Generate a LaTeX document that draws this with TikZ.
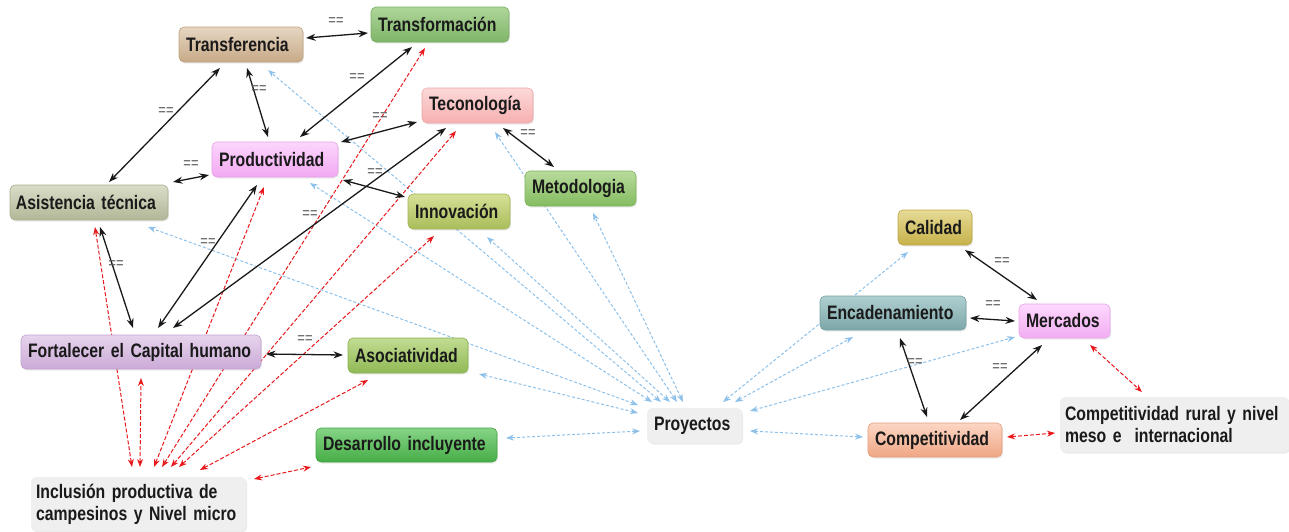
\documentclass[tikz,border=0pt]{standalone}
\usepackage{fontspec}
\setmainfont{Liberation Sans}[FakeStretch=0.81]
\usetikzlibrary{arrows.meta,calc,shadows}
\pgfdeclarelayer{edges}
\pgfsetlayers{edges,main}

% narrow bold label face
\newcommand{\boxfont}{\fontsize{19.5}{22}\selectfont\bfseries}

% box fills: top / bottom / border
\definecolor{tfT}{HTML}{E6D6C2}\definecolor{tfB}{HTML}{C7AA87}\definecolor{tfD}{HTML}{BFA27F}
\definecolor{tmT}{HTML}{AFD69A}\definecolor{tmB}{HTML}{7EB468}\definecolor{tmD}{HTML}{79AD63}
\definecolor{tcT}{HTML}{FDD8D8}\definecolor{tcB}{HTML}{F6B0B0}\definecolor{tcD}{HTML}{EDA6A6}
\definecolor{prT}{HTML}{FCD6FC}\definecolor{prB}{HTML}{F2A8F2}\definecolor{prD}{HTML}{E6A0E6}
\definecolor{asT}{HTML}{DADDC8}\definecolor{asB}{HTML}{B1B797}\definecolor{asD}{HTML}{A8AE8E}
\definecolor{inT}{HTML}{D6E096}\definecolor{inB}{HTML}{A9BD5A}\definecolor{inD}{HTML}{A2B555}
\definecolor{meT}{HTML}{B8DB9C}\definecolor{meB}{HTML}{84BC60}\definecolor{meD}{HTML}{7DB45A}
\definecolor{fcT}{HTML}{E6D4EC}\definecolor{fcB}{HTML}{CBAAD8}\definecolor{fcD}{HTML}{C3A3D0}
\definecolor{aoT}{HTML}{C2DC92}\definecolor{aoB}{HTML}{90B955}\definecolor{aoD}{HTML}{88B150}
\definecolor{deT}{HTML}{86D486}\definecolor{deB}{HTML}{46AD46}\definecolor{deD}{HTML}{42A442}
\definecolor{caT}{HTML}{E6DA96}\definecolor{caB}{HTML}{C6B14A}\definecolor{caD}{HTML}{BCA846}
\definecolor{enT}{HTML}{B0CFD0}\definecolor{enB}{HTML}{7CA6A9}\definecolor{enD}{HTML}{769FA2}
\definecolor{mcT}{HTML}{FDD8FD}\definecolor{mcB}{HTML}{F2ADF2}\definecolor{mcD}{HTML}{E8A4E8}
\definecolor{cpT}{HTML}{FCD6C4}\definecolor{cpB}{HTML}{EFA684}\definecolor{cpD}{HTML}{E59E7E}
\definecolor{greyfill}{HTML}{EFEFEF}
\definecolor{txt}{HTML}{1A1A1A}
\definecolor{redln}{HTML}{E8191C}
\definecolor{blueln}{HTML}{8DC1EA}

\begin{document}
\begin{tikzpicture}[x=1pt,y=-1pt,
  box/.style={rectangle, rounded corners=5pt, inner xsep=7pt, inner ysep=0pt,
    minimum height=35pt, align=left, text=txt, font=\boxfont,
    drop shadow={shadow xshift=1.2pt, shadow yshift=-1.5pt, opacity=0.16}},
  tone/.style n args={3}{top color=#1, bottom color=#2, draw=#3, line width=0.6pt},
  plain/.style={fill=greyfill, draw=none},
  eq/.style={font=\fontsize{16}{16}\selectfont, text=black!65, inner sep=0pt},
  blk/.style={<->, >={Stealth[length=9.5pt,width=7pt]}, line width=1.3pt, draw=black!90},
  rdash/.style={<->, >={Stealth[length=8pt,width=6pt]}, line width=1pt, draw=redln,
    dash pattern=on 4pt off 2pt},
  bdash/.style={<->, >={Stealth[length=8pt,width=6pt]}, line width=1pt, draw=blueln,
    dash pattern=on 3pt off 2pt}
]
\useasboundingbox (0,0) rectangle (1289,531);

% concept boxes
\node[box, tone={tfT}{tfB}{tfD}, text width=110pt] (tf) at (241,44.5) {Transferencia};
\node[box, tone={tmT}{tmB}{tmD}, text width=124pt] (tm) at (440,24.5) {Transformación};
\node[box, tone={tcT}{tcB}{tcD}, text width=97pt]  (tc) at (477.5,105.5) {Teconología};
\node[box, tone={prT}{prB}{prD}, text width=112pt] (pr) at (275,159.5) {Productividad};
\node[box, tone={asT}{asB}{asD}, inner xsep=6pt, text width=146pt] (as) at (89,202.5) {Asistencia técnica};
\node[box, tone={inT}{inB}{inD}, text width=88pt]  (in) at (459,211.5) {Innovación};
\node[box, tone={meT}{meB}{meD}, text width=97pt]  (me) at (580.5,188.5) {Metodologia};
\node[box, tone={fcT}{fcB}{fcD}, text width=226pt, minimum height=34pt] (fc) at (141,352) {Fortalecer el Capital humano};
\node[box, tone={aoT}{aoB}{aoD}, text width=106pt] (ao) at (408,355.5) {Asociatividad};
\node[box, tone={deT}{deB}{deD}, text width=167pt, minimum height=34pt] (de) at (406.5,445) {Desarrollo incluyente};
\node[box, plain, text width=205pt, inner xsep=5pt, minimum height=54pt] (ic) at (138.5,504)
  {Inclusión productiva de\\campesinos y Nivel micro};
\node[box, plain, text width=81pt] (py) at (694.5,425.5) {Proyectos};
\node[box, tone={caT}{caB}{caD}, text width=60pt]  (ca) at (935,227.5) {Calidad};
\node[box, tone={enT}{enB}{enD}, text width=132pt, minimum height=34pt] (en) at (893,313) {Encadenamiento};
\node[box, tone={mcT}{mcB}{mcD}, text width=77pt, minimum height=34pt]  (mc) at (1064.5,321) {Mercados};
\node[box, tone={cpT}{cpB}{cpD}, text width=120pt, minimum height=34pt] (cp) at (935,440) {Competitividad};
\node[box, plain, text width=219pt, inner xsep=5pt, minimum height=55pt] (cr) at (1174.5,424.5)
  {Competitividad rural y nivel\\meso e\ \ internacional};

\begin{pgfonlayer}{edges}
% links to Proyectos
\draw[bdash] ($(py)+(-33.5,-23.5)$) -- ($(tf)+(27,25.5)$);
\draw[bdash] ($(py)+(-42.5,-23.5)$) -- ($(pr)+(35,23.5)$);
\draw[bdash] ($(py)+(-56.5,-20.5)$) -- ($(as)+(59,24.5)$);
\draw[bdash] ($(py)+(-17.5,-23.5)$) -- ($(tc)+(17.5,26.5)$);
\draw[bdash] ($(py)+(-24.5,-23.5)$) -- ($(in)+(28,25.5)$);
\draw[bdash] ($(py)+(-11.5,-23.5)$) -- ($(me)+(12.5,24.5)$);
\draw[bdash] ($(py)+(-56.5,-12.5)$) -- ($(ao)+(71,18.5)$);
\draw[bdash] ($(py)+(-54.5,5.5)$) -- ($(de)+(99.5,-7)$);
\draw[bdash] ($(py)+(28.5,-23.5)$) -- ($(ca)+(-27,24.5)$);
\draw[bdash] ($(py)+(40.5,-23.5)$) -- ($(en)+(-40,24)$);
\draw[bdash] ($(py)+(55.5,-14.5)$) -- ($(mc)+(-49.5,16)$);
\draw[bdash] ($(py)+(55.5,5.5)$) -- ($(cp)+(-72,-3)$);

% links from the micro level and to the rural level
\draw[rdash] ($(ic)+(-6.5,-37)$) -- ($(as)+(6,24.5)$);
\draw[rdash] ($(ic)+(1.5,-37)$) -- ($(fc)+(0,26)$);
\draw[rdash] ($(ic)+(15.5,-37)$) -- ($(pr)+(-11,27.5)$);
\draw[rdash] ($(ic)+(23.5,-37)$) -- ($(tm)+(-15,23.5)$);
\draw[rdash] ($(ic)+(32.5,-37)$) -- ($(tc)+(-21.5,25.5)$);
\draw[rdash] ($(ic)+(40.5,-37)$) -- ($(in)+(-25,24.5)$);
\draw[rdash] ($(ic)+(61.5,-34)$) -- ($(ao)+(-40,24.5)$);
\draw[rdash] ($(ic)+(115.5,-25)$) -- ($(de)+(-95.5,22)$);
\draw[rdash] ($(mc)+(25.5,24)$) -- ($(cr)+(-32.5,-32.5)$);
\draw[rdash] ($(cp)+(72,-3)$) -- ($(cr)+(-119.5,8.5)$);

% equivalence links
\draw[blk] ($(tf)+(65,-6.5)$) -- ($(tm)+(-72,8.5)$);
\draw[blk] ($(tf)+(-21,23.5)$) -- ($(as)+(20,-20.5)$);
\draw[blk] ($(tf)+(6,23.5)$) -- ($(pr)+(-7,-22.5)$);
\draw[blk] ($(tm)+(-28,22.5)$) -- ($(pr)+(25,-22.5)$);
\draw[blk] ($(pr)+(66,-17.5)$) -- ($(tc)+(-60.5,16.5)$);
\draw[blk] ($(as)+(84,-20.5)$) -- ($(pr)+(-66,15.5)$);
\draw[blk] ($(pr)+(68,20.5)$) -- ($(in)+(-54,-14.5)$);
\draw[blk] ($(fc)+(17,-24)$) -- ($(pr)+(-18,25.5)$);
\draw[blk] ($(fc)+(32,-24)$) -- ($(tc)+(-31.5,22.5)$);
\draw[blk] ($(as)+(11,24.5)$) -- ($(fc)+(-8,-24)$);
\draw[blk] ($(tc)+(25.5,22.5)$) -- ($(me)+(-26.5,-21.5)$);
\draw[blk] ($(fc)+(125,2)$) -- ($(ao)+(-65,-0.5)$);
\draw[blk] ($(ca)+(30,22.5)$) -- ($(mc)+(-27.5,-21)$);
\draw[blk] ($(en)+(77,5)$) -- ($(mc)+(-49.5,0)$);
\draw[blk] ($(en)+(7,25)$) -- ($(cp)+(-8,-23)$);
\draw[blk] ($(mc)+(-22.5,24)$) -- ($(cp)+(25,-20)$);
\end{pgfonlayer}

% equivalence marks
\node[eq] (q1)  at (336,22)   {==};
\node[eq] (q2)  at (166,112)  {==};
\node[eq] (q3)  at (259,90)   {==};
\node[eq] (q4)  at (357,78)   {==};
\node[eq] (q5)  at (380,117)  {==};
\node[eq] (q6)  at (191,165)  {==};
\node[eq] (q7)  at (375,173)  {==};
\node[eq] (q8)  at (208,243)  {==};
\node[eq] (q9)  at (310,215)  {==};
\node[eq] (q10) at (116,265)  {==};
\node[eq] (q11) at (528,134)  {==};
\node[eq] (q12) at (305,340)  {==};
\node[eq] (q13) at (1002,262) {==};
\node[eq] (q14) at (993,305)  {==};
\node[eq] (q15) at (915,363)  {==};
\node[eq] (q16) at (1000,368) {==};
\end{tikzpicture}
\end{document}
